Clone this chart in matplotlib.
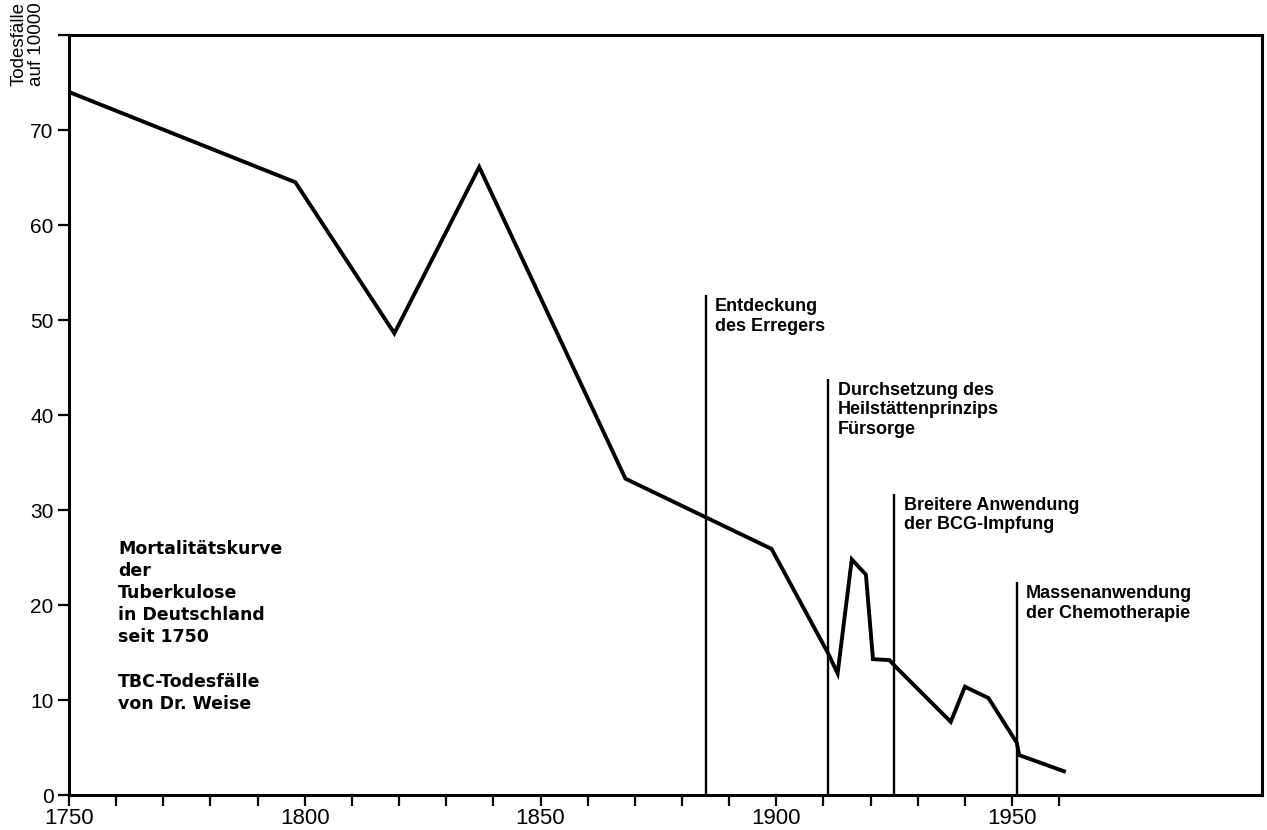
import matplotlib.pyplot as plt

plt.rcParams["font.family"] = ["Liberation Sans", "DejaVu Sans"]

# Mortalitätskurve
years = [1750, 1798, 1819, 1837, 1868, 1899, 1911, 1913, 1916, 1919,
         1920.5, 1924, 1925.5, 1937, 1940, 1945, 1951, 1951.5, 1961]
deaths = [74.0, 64.5, 48.6, 66.1, 33.3, 25.9, 14.9, 12.8, 24.8, 23.2,
          14.3, 14.2, 13.4, 7.7, 11.4, 10.2, 5.5, 4.2, 2.5]

# events marked by vertical lines
event_years = [1885, 1911, 1925, 1951]
event_tops = [52.6, 43.8, 31.7, 22.4]
event_labels = [
    "Entdeckung\ndes Erregers",
    "Durchsetzung des\nHeilstättenprinzips\nFürsorge",
    "Breitere Anwendung\nder BCG-Impfung",
    "Massenanwendung\nder Chemotherapie",
]

x_ticks = list(range(1750, 1961, 10))
x_ticklabels = [str(y) if y % 50 == 0 else "" for y in x_ticks]
y_ticks = list(range(0, 81, 10))
y_ticklabels = [str(v) if v < 80 else "" for v in y_ticks]

info_text = ("Mortalitätskurve\nder\nTuberkulose\nin Deutschland\nseit 1750\n\n"
             "TBC-Todesfälle\nvon Dr. Weise")


def main() -> None:
    fig = plt.figure(figsize=(12.67, 8.30), dpi=100)
    ax = fig.add_axes([69 / 1267, 35 / 830, (1262 - 69) / 1267, 760 / 830])

    ax.plot(years, deaths, color="black", linewidth=2.8,
            solid_joinstyle="miter")

    for yr, top, label in zip(event_years, event_tops, event_labels):
        ax.vlines(yr, 0, top, color="black", linewidth=1.7)
        ax.text(yr + 2, top - 0.3, label, ha="left", va="top",
                fontsize=13, fontweight="bold", linespacing=1.2)

    ax.text(0.041, 0.336, info_text, transform=ax.transAxes,
            ha="left", va="top", fontsize=12.5, fontweight="bold",
            linespacing=1.3, family="DejaVu Sans")

    ax.set_xlim(1750, 2003)
    ax.set_ylim(0, 80)
    ax.set_xticks(x_ticks)
    ax.set_xticklabels(x_ticklabels)
    ax.set_yticks(y_ticks)
    ax.set_yticklabels(y_ticklabels)
    ax.tick_params(axis="x", direction="out", length=8, width=1.6,
                   pad=1, labelsize=16)
    ax.tick_params(axis="y", direction="out", length=8, width=1.6,
                   pad=3, labelsize=15)

    for spine in ax.spines.values():
        spine.set_linewidth(2.2)

    fig.text(28 / 1267, 0.997, "Todesfälle\nauf 10000", rotation=90,
             ha="center", va="top", fontsize=13.5, linespacing=1.0,
             multialignment="center")

    fig.savefig("out.png", dpi=100)
    plt.close(fig)


if __name__ == "__main__":
    main()
